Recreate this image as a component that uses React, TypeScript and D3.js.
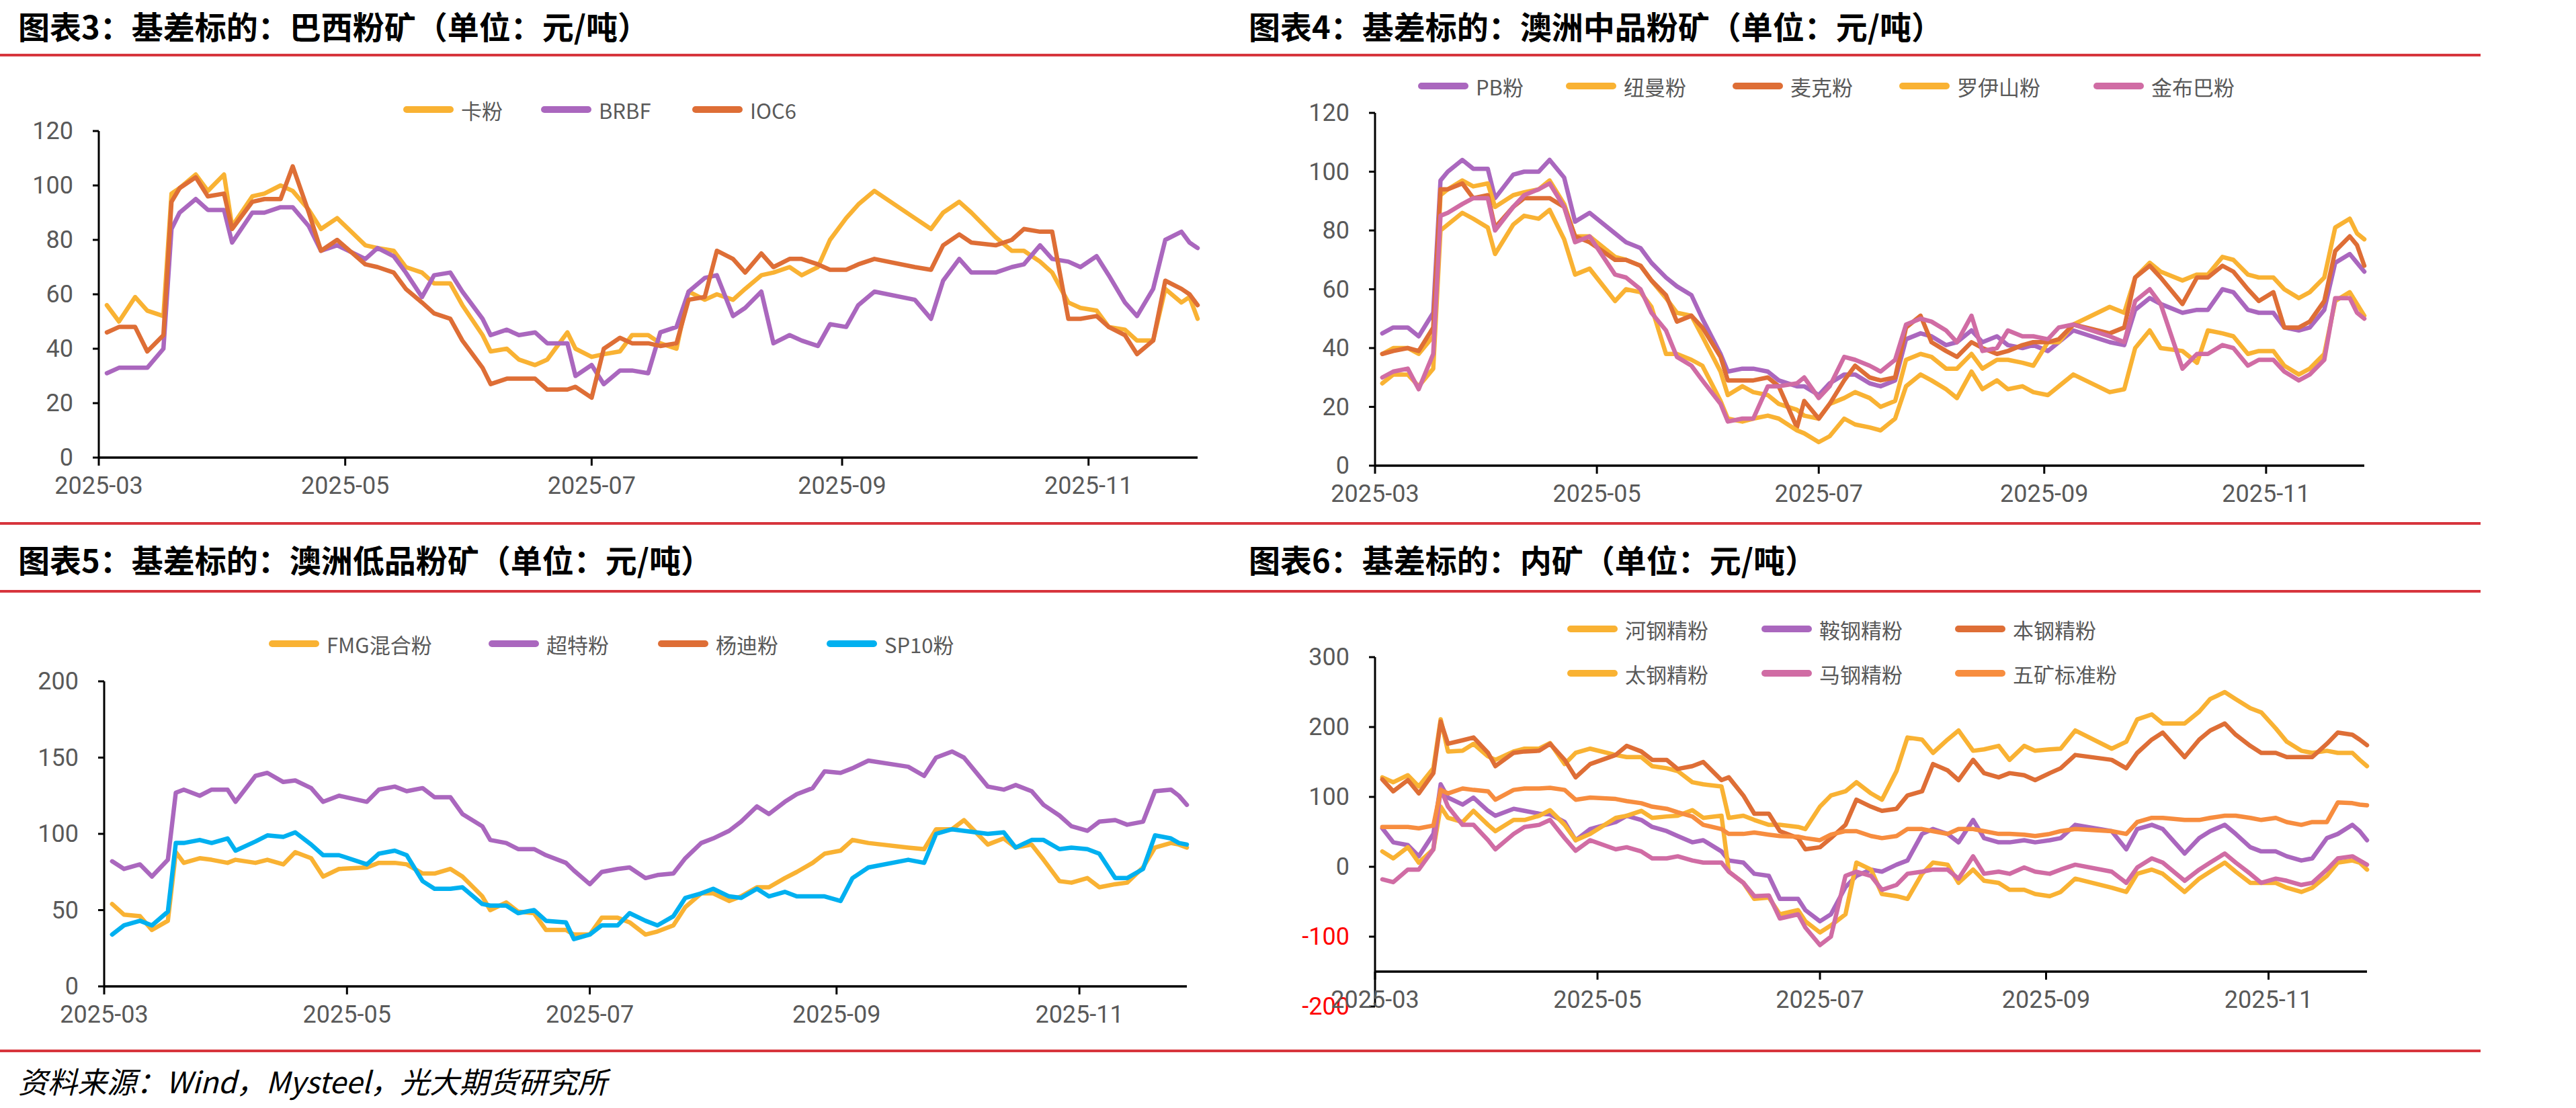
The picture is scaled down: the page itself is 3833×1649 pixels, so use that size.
import * as d3 from "d3";

const WIDTH = 3833;
const HEIGHT = 1649;

// trading-day samples shared by every panel
const DATES = [
  "2025-03-03", "2025-03-06", "2025-03-10", "2025-03-13", "2025-03-17", "2025-03-19", "2025-03-21", "2025-03-25",
  "2025-03-28", "2025-04-01", "2025-04-03", "2025-04-08", "2025-04-11", "2025-04-15", "2025-04-18", "2025-04-22",
  "2025-04-25", "2025-04-29", "2025-05-06", "2025-05-09", "2025-05-13", "2025-05-16", "2025-05-20", "2025-05-23",
  "2025-05-27", "2025-05-30", "2025-06-04", "2025-06-06", "2025-06-10", "2025-06-13", "2025-06-17", "2025-06-20",
  "2025-06-25", "2025-06-27", "2025-07-01", "2025-07-04", "2025-07-08", "2025-07-11", "2025-07-15", "2025-07-18",
  "2025-07-22", "2025-07-25", "2025-07-29", "2025-08-01", "2025-08-05", "2025-08-08", "2025-08-12", "2025-08-15",
  "2025-08-19", "2025-08-22", "2025-08-26", "2025-08-29", "2025-09-02", "2025-09-05", "2025-09-09", "2025-09-19",
  "2025-09-23", "2025-09-26", "2025-09-30", "2025-10-03", "2025-10-09", "2025-10-13", "2025-10-16", "2025-10-20",
  "2025-10-23", "2025-10-27", "2025-10-30", "2025-11-03", "2025-11-06", "2025-11-10", "2025-11-13", "2025-11-17",
  "2025-11-20", "2025-11-24", "2025-11-26", "2025-11-28",
];

const AXIS_START = "2025-03-01";
const AXIS_END = "2025-11-28";
const TICK_DATES = ["2025-03-01", "2025-05-01", "2025-07-01", "2025-09-01", "2025-11-01"];
const TICK_LABELS = ["2025-03", "2025-05", "2025-07", "2025-09", "2025-11"];

// 图表3 巴西粉矿
const KA_FEN = [
  56, 50, 59, 54, 52, 97, 99, 104, 98, 104, 85, 96, 97, 100, 98, 91,
  84, 88, 78, 77, 76, 70, 68, 64, 64, 56, 45, 39, 40, 36, 34, 36,
  46, 40, 37, 38, 39, 45, 45, 42, 40, 61, 58, 60, 58, 62, 67, 68,
  70, 67, 70, 80, 88, 93, 98, 88, 84, 90, 94, 90, 81, 76, 76, 72,
  68, 57, 55, 54, 48, 47, 43, 43, 62, 57, 59, 51,
];
const BRBF = [
  31, 33, 33, 33, 40, 84, 90, 95, 91, 91, 79, 90, 90, 92, 92, 85,
  76, 78, 73, 77, 74, 68, 59, 67, 68, 61, 51, 45, 47, 45, 46, 42,
  42, 30, 34, 27, 32, 32, 31, 46, 48, 61, 66, 67, 52, 55, 61, 42,
  45, 43, 41, 49, 48, 56, 61, 58, 51, 65, 73, 68, 68, 70, 71, 78,
  73, 72, 70, 74, 67, 57, 52, 62, 80, 83, 79, 77,
];
const IOC6 = [
  46, 48, 48, 39, 45, 94, 99, 103, 96, 97, 84, 94, 95, 95, 107, 90,
  76, 80, 71, 70, 68, 62, 57, 53, 51, 43, 33, 27, 29, 29, 29, 25,
  25, 26, 22, 40, 44, 42, 42, 41, 42, 58, 59, 76, 73, 68, 75, 70,
  73, 73, 71, 69, 69, 71, 73, 70, 69, 78, 82, 79, 78, 80, 84, 83,
  83, 51, 51, 52, 48, 45, 38, 43, 65, 62, 60, 56,
];

// 图表4 澳洲中品粉矿
const PB_FEN = [
  45, 47, 47, 44, 52, 97, 100, 104, 101, 101, 91, 99, 100, 100, 104, 98,
  83, 86, 79, 76, 74, 69, 64, 61, 58, 50, 38, 32, 33, 33, 32, 29,
  27, 27, 24, 28, 31, 31, 28, 27, 29, 43, 45, 44, 41, 42, 46, 42,
  44, 41, 40, 41, 39, 42, 46, 42, 41, 53, 57, 55, 52, 53, 53, 60,
  59, 53, 52, 52, 47, 46, 47, 53, 69, 72, 69, 66,
];
const NIUMAN_FEN = [
  38, 40, 40, 38, 44, 92, 94, 97, 95, 96, 88, 92, 93, 94, 97, 89,
  78, 78, 71, 70, 68, 63, 57, 52, 51, 44, 32, 24, 27, 25, 24, 21,
  19, 17, 16, 21, 23, 25, 23, 20, 22, 36, 38, 37, 33, 33, 38, 33,
  36, 36, 35, 34, 42, 42, 48, 54, 52, 64, 69, 66, 63, 65, 65, 71,
  70, 65, 64, 64, 60, 57, 59, 64, 81, 84, 79, 77,
];
const MAIKE_FEN = [
  38, 39, 40, 39, 47, 94, 94, 96, 91, 92, 81, 88, 91, 91, 91, 88,
  78, 76, 70, 70, 68, 63, 58, 49, 51, 47, 37, 29, 29, 29, 30, 27,
  13, 22, 16, 21, 29, 34, 30, 29, 30, 47, 51, 42, 39, 37, 42, 40,
  38, 39, 41, 42, 42, 43, 48, 45, 47, 64, 68, 64, 55, 64, 64, 68,
  66, 60, 56, 59, 47, 47, 49, 56, 73, 78, 75, 68,
];
const LUOYISHAN_FEN = [
  28, 31, 31, 27, 33, 80, 82, 86, 84, 81, 72, 82, 85, 84, 87, 77,
  65, 67, 56, 60, 59, 54, 38, 38, 36, 34, 22, 16, 15, 16, 17, 16,
  12, 11, 8, 10, 16, 14, 13, 12, 16, 27, 31, 29, 26, 23, 32, 26,
  29, 26, 27, 25, 24, 27, 31, 25, 26, 40, 46, 40, 39, 35, 46, 45,
  44, 38, 39, 39, 34, 31, 33, 38, 56, 59, 55, 51,
];
const JINBUBA_FEN = [
  30, 32, 33, 26, 38, 85, 86, 89, 91, 91, 80, 88, 92, 94, 96, 88,
  76, 78, 65, 64, 60, 52, 46, 37, 34, 29, 21, 15, 16, 16, 27, 27,
  28, 30, 23, 27, 37, 36, 34, 32, 36, 48, 50, 49, 46, 42, 51, 39,
  40, 46, 44, 44, 43, 47, 48, 44, 42, 56, 60, 55, 33, 38, 38, 41,
  40, 34, 36, 36, 32, 29, 31, 36, 57, 57, 52, 50,
];

// 图表5 澳洲低品粉矿
const FMG_FEN = [
  54, 47, 46, 37, 43, 88, 81, 84, 83, 81, 83, 81, 83, 80, 88, 84,
  72, 77, 78, 81, 81, 80, 74, 74, 77, 72, 59, 50, 55, 49, 48, 37,
  37, 34, 34, 45, 45, 42, 34, 36, 40, 52, 61, 61, 56, 59, 65, 65,
  71, 75, 81, 87, 89, 96, 94, 91, 90, 103, 103, 109, 93, 97, 91, 93,
  83, 69, 68, 71, 65, 67, 68, 78, 91, 94, 93, 91,
];
const CHAOTE_FEN = [
  82, 77, 80, 72, 83, 127, 129, 125, 129, 129, 121, 138, 140, 134, 135, 130,
  121, 125, 121, 129, 131, 128, 130, 124, 124, 113, 105, 96, 94, 90, 90, 86,
  81, 76, 67, 75, 77, 78, 71, 73, 74, 84, 94, 97, 102, 108, 118, 113,
  121, 126, 130, 141, 140, 143, 148, 144, 138, 150, 154, 150, 131, 129, 132, 128,
  119, 112, 105, 102, 108, 109, 106, 108, 128, 129, 125, 119,
];
const YANGDI_FEN: number[] = [];
const SP10_FEN = [
  34, 40, 43, 40, 49, 94, 94, 96, 94, 97, 89, 95, 99, 98, 101, 93,
  86, 86, 80, 87, 89, 86, 69, 64, 64, 65, 54, 53, 53, 48, 50, 43,
  42, 31, 34, 40, 40, 48, 43, 40, 46, 58, 61, 64, 59, 58, 64, 59,
  62, 59, 59, 59, 56, 71, 78, 83, 81, 100, 103, 102, 100, 101, 91, 96,
  96, 90, 91, 90, 87, 71, 71, 77, 99, 97, 94, 93,
];

// 图表6 内矿
const HEGANG = [
  128, 121, 131, 115, 141, 211, 165, 166, 176, 158, 153, 165, 169, 169, 177, 147,
  163, 169, 160, 157, 157, 144, 141, 137, 121, 118, 115, 70, 73, 67, 60, 60,
  57, 54, 86, 102, 108, 121, 105, 96, 137, 185, 182, 163, 182, 195, 166, 168,
  173, 153, 173, 166, 168, 169, 195, 169, 179, 211, 218, 205, 205, 222, 240, 250,
  240, 227, 221, 198, 179, 166, 163, 166, 163, 163, 153, 144,
];
const ANGANG = [
  55, 35, 31, 15, 47, 118, 99, 89, 99, 80, 73, 83, 80, 76, 75, 64,
  38, 54, 64, 73, 67, 57, 51, 44, 35, 38, 22, 9, 6, -10, -13, -46,
  -46, -62, -78, -68, -29, -13, -4, -7, 3, 9, 47, 54, 47, 35, 67, 41,
  35, 35, 38, 35, 38, 41, 60, 51, 25, 54, 60, 54, 19, 41, 51, 60,
  47, 28, 22, 22, 15, 9, 12, 41, 47, 60, 51, 38,
];
const BENGANG = [
  125, 108, 124, 105, 134, 208, 176, 181, 185, 163, 144, 163, 165, 166, 176, 153,
  128, 147, 160, 173, 165, 153, 153, 140, 144, 150, 124, 128, 102, 76, 76, 51,
  41, 25, 28, 41, 60, 96, 86, 80, 83, 102, 108, 147, 138, 124, 153, 134,
  128, 134, 131, 124, 134, 141, 160, 153, 141, 163, 182, 192, 157, 182, 195, 205,
  189, 173, 163, 163, 157, 157, 157, 176, 192, 189, 182, 174,
];
const TAIGANG = [
  22, 12, 28, 6, 25, 86, 70, 64, 80, 60, 51, 67, 67, 73, 81, 60,
  38, 47, 70, 73, 80, 70, 72, 73, 81, 70, 73, -7, -23, -46, -44, -68,
  -62, -78, -94, -84, -68, 6, -4, -39, -42, -46, -10, 6, 3, -23, -4, -20,
  -23, -33, -33, -39, -42, -36, -17, -30, -36, -10, -4, -10, -36, -17, -7, 6,
  -7, -23, -23, -23, -30, -36, -30, -13, 6, 9, 6, -4,
];
const MAGANG = [
  -18, -22, -4, -4, 25, 112, 86, 60, 60, 38, 25, 47, 57, 60, 67, 41,
  23, 38, 25, 28, 22, 12, 12, 15, 9, 6, 6, -7, -23, -42, -41, -74,
  -68, -87, -112, -100, -13, -7, -13, -33, -26, -10, -7, -4, -4, -17, 15, -10,
  -7, -10, -1, -7, -10, -4, 3, -7, -23, -1, 12, 6, -20, -4, 6, 19,
  6, -10, -23, -17, -20, -26, -23, -4, 12, 15, 9, 3,
];
const WUKUANG = [
  57, 57, 57, 55, 59, 110, 105, 112, 110, 108, 96, 110, 112, 112, 113, 110,
  96, 99, 97, 94, 91, 86, 83, 78, 72, 60, 54, 47, 47, 49, 46, 44,
  43, 41, 38, 46, 51, 51, 44, 41, 44, 54, 54, 51, 47, 54, 54, 51,
  47, 47, 46, 44, 47, 51, 54, 51, 47, 64, 70, 70, 67, 67, 70, 73,
  73, 70, 67, 70, 64, 60, 64, 64, 92, 91, 89, 88,
];

const YELLOW = "#F9B233";
const PURPLE = "#AA67BE";
const DARK_ORANGE = "#DE6E36";
const PINK = "#D06CA4";
const BLUE = "#00B0F0";
const ORANGE = "#F78D3F";
const RED = "#D7353D";
const GREY = "#595959";

const CJK = "'Noto Sans CJK SC', 'Noto Sans', sans-serif";
const NUM = "'Liberation Sans Narrow', Roboto, 'Noto Sans', sans-serif";

type Series = { name: string; color: string; values: number[] };
type LegendPos = { x: number; y: number };
type ChartSpec = {
  title: string;
  titleX: number;
  titleY: number;
  left: number;
  right: number;
  top: number;
  bottom: number;
  yDomain: [number, number];
  yTicks: number[];
  xAxisAt: number;
  legend: LegendPos[];
  series: Series[];
};

const parseDate = d3.timeParse("%Y-%m-%d");
const dates = DATES.map((d) => parseDate(d) as Date);

const CHARTS: ChartSpec[] = [
  {
    title: "图表3：基差标的：巴西粉矿（单位：元/吨）",
    titleX: 27,
    titleY: 58,
    left: 147,
    right: 1782,
    top: 195,
    bottom: 681,
    yDomain: [0, 120],
    yTicks: [0, 20, 40, 60, 80, 100, 120],
    xAxisAt: 0,
    legend: [
      { x: 600, y: 163 },
      { x: 805, y: 163 },
      { x: 1030, y: 163 },
    ],
    series: [
      { name: "卡粉", color: YELLOW, values: KA_FEN },
      { name: "BRBF", color: PURPLE, values: BRBF },
      { name: "IOC6", color: DARK_ORANGE, values: IOC6 },
    ],
  },
  {
    title: "图表4：基差标的：澳洲中品粉矿（单位：元/吨）",
    titleX: 1858,
    titleY: 58,
    left: 2046,
    right: 3518,
    top: 168,
    bottom: 693,
    yDomain: [0, 120],
    yTicks: [0, 20, 40, 60, 80, 100, 120],
    xAxisAt: 0,
    legend: [
      { x: 2110, y: 128 },
      { x: 2330, y: 128 },
      { x: 2578, y: 128 },
      { x: 2826, y: 128 },
      { x: 3115, y: 128 },
    ],
    series: [
      { name: "PB粉", color: PURPLE, values: PB_FEN },
      { name: "纽曼粉", color: YELLOW, values: NIUMAN_FEN },
      { name: "麦克粉", color: DARK_ORANGE, values: MAIKE_FEN },
      { name: "罗伊山粉", color: YELLOW, values: LUOYISHAN_FEN },
      { name: "金布巴粉", color: PINK, values: JINBUBA_FEN },
    ],
  },
  {
    title: "图表5：基差标的：澳洲低品粉矿（单位：元/吨）",
    titleX: 27,
    titleY: 852,
    left: 155,
    right: 1766,
    top: 1014,
    bottom: 1468,
    yDomain: [0, 200],
    yTicks: [0, 50, 100, 150, 200],
    xAxisAt: 0,
    legend: [
      { x: 400, y: 958 },
      { x: 727, y: 958 },
      { x: 979, y: 958 },
      { x: 1230, y: 958 },
    ],
    series: [
      { name: "FMG混合粉", color: YELLOW, values: FMG_FEN },
      { name: "超特粉", color: PURPLE, values: CHAOTE_FEN },
      { name: "杨迪粉", color: DARK_ORANGE, values: YANGDI_FEN },
      { name: "SP10粉", color: BLUE, values: SP10_FEN },
    ],
  },
  {
    title: "图表6：基差标的：内矿（单位：元/吨）",
    titleX: 1858,
    titleY: 852,
    left: 2046,
    right: 3522,
    top: 978,
    bottom: 1498,
    yDomain: [-200, 300],
    yTicks: [-200, -100, 0, 100, 200, 300],
    xAxisAt: -150,
    legend: [
      { x: 2332, y: 936 },
      { x: 2621, y: 936 },
      { x: 2909, y: 936 },
      { x: 2332, y: 1002 },
      { x: 2621, y: 1002 },
      { x: 2909, y: 1002 },
    ],
    series: [
      { name: "河钢精粉", color: YELLOW, values: HEGANG },
      { name: "鞍钢精粉", color: PURPLE, values: ANGANG },
      { name: "本钢精粉", color: DARK_ORANGE, values: BENGANG },
      { name: "太钢精粉", color: YELLOW, values: TAIGANG },
      { name: "马钢精粉", color: PINK, values: MAGANG },
      { name: "五矿标准粉", color: ORANGE, values: WUKUANG },
    ],
  },
];

const Panel = ({ spec }: { spec: ChartSpec }) => {
  const xScale = d3
    .scaleTime()
    .domain([parseDate(AXIS_START) as Date, parseDate(AXIS_END) as Date])
    .range([spec.left, spec.right]);
  const yScale = d3.scaleLinear().domain(spec.yDomain).range([spec.bottom, spec.top]);
  const axisY = yScale(spec.xAxisAt);

  const lineBuilder = d3
    .line<[Date, number]>()
    .x((d) => xScale(d[0]))
    .y((d) => yScale(d[1]));

  return (
    <g>
      <text
        x={spec.titleX}
        y={spec.titleY}
        fontFamily={CJK}
        fontWeight={700}
        fontSize={47}
        fill="#000"
      >
        {spec.title}
      </text>

      {/* legend */}
      {spec.series.map((s, i) => {
        const p = spec.legend[i];
        return (
          <g key={s.name}>
            <line
              x1={p.x + 5}
              x2={p.x + 70}
              y1={p.y}
              y2={p.y}
              stroke={s.color}
              strokeWidth={10}
              strokeLinecap="round"
            />
            <text
              x={p.x + 86}
              y={p.y}
              dominantBaseline="central"
              fontFamily={CJK}
              fontSize={31}
              fill={GREY}
            >
              {s.name}
            </text>
          </g>
        );
      })}

      {/* series */}
      {spec.series.map((s) => {
        const pts = s.values.map((v, i) => [dates[i], v] as [Date, number]);
        const path = pts.length ? lineBuilder(pts) : null;
        if (!path) return null;
        return (
          <path
            key={s.name}
            d={path}
            fill="none"
            stroke={s.color}
            strokeWidth={6.5}
            strokeLinejoin="round"
            strokeLinecap="round"
          />
        );
      })}

      {/* y axis */}
      <line x1={spec.left} x2={spec.left} y1={spec.top} y2={spec.bottom} stroke="#000" strokeWidth={3} />
      {spec.yTicks.map((t) => (
        <g key={t}>
          <line x1={spec.left - 9} x2={spec.left} y1={yScale(t)} y2={yScale(t)} stroke="#000" strokeWidth={3} />
          <text
            x={spec.left - 38}
            y={yScale(t)}
            textAnchor="end"
            dominantBaseline="central"
            fontFamily={NUM}
            fontSize={36}
            fill={t < 0 ? "#FF0000" : GREY}
          >
            {t < 0 ? `-${Math.abs(t)}` : t}
          </text>
        </g>
      ))}

      {/* x axis */}
      <line x1={spec.left} x2={spec.right} y1={axisY} y2={axisY} stroke="#000" strokeWidth={3.5} />
      {TICK_DATES.map((d, i) => {
        const x = xScale(parseDate(d) as Date);
        return (
          <g key={d}>
            <line x1={x} x2={x} y1={axisY} y2={axisY + 12} stroke="#000" strokeWidth={3} />
            <text
              x={x}
              y={axisY + 42}
              textAnchor="middle"
              dominantBaseline="central"
              fontFamily={NUM}
              fontSize={36}
              fill={GREY}
            >
              {TICK_LABELS[i]}
            </text>
          </g>
        );
      })}
    </g>
  );
};

export default function App() {
  const rules = [82, 779, 880, 1564];
  return (
    <div style={{ position: "absolute", left: 0, top: 0 }}>
      <svg width={WIDTH} height={HEIGHT} style={{ display: "block", background: "#fff" }}>
        <rect x={0} y={0} width={WIDTH} height={HEIGHT} fill="#fff" />
        {rules.map((y) => (
          <line key={y} x1={0} x2={3691} y1={y} y2={y} stroke={RED} strokeWidth={4} />
        ))}
        {CHARTS.map((c) => (
          <Panel key={c.title} spec={c} />
        ))}
        <text
          x={27}
          y={1627}
          fontFamily={CJK}
          fontStyle="italic"
          fontSize={44}
          fill="#000"
        >
          资料来源：Wind，Mysteel，光大期货研究所
        </text>
      </svg>
    </div>
  );
}
